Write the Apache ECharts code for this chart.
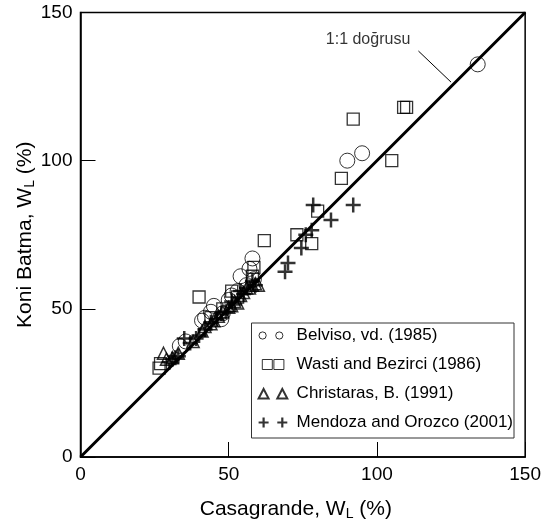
<!DOCTYPE html>
<html>
<head>
<meta charset="utf-8">
<script src="https://cdn.jsdelivr.net/npm/echarts/dist/echarts.min.js"></script>
<style>html,body{margin:0;padding:0;background:#fff}#c{width:544px;height:526px}</style>
</head>
<body>
<div id="c"></div>
<script>
// ---- data ----
const xTicks = [0, 50, 100, 150];
const yTicks = [0, 50, 100, 150];
const seriesNames = ['Belviso, vd. (1985)', 'Wasti and Bezirci (1986)', 'Christaras, B. (1991)', 'Mendoza and Orozco (2001)'];
const belviso = [[33.5,37.5],[35.5,39],[41,46],[42,47],[44,49],[45,51],[47.5,46.5],[48,48.5],[50,53],[51,54.5],[53,56],[54,61],[56,58],[57,63.5],[58,67],[58.5,60],[90,100],[95,102.5],[134,132.5]];
const wasti = [[26.5,30],[27,31.5],[40,54],[44,47],[48,50],[51,56],[53,54],[58,61],[58.5,64],[62,73],[73,75],[78,72],[80,83],[88,94],[92,114],[105,100],[109,118],[110,118]];
const christaras = [[28,35],[29,33],[31,33.5],[33,35],[38,39],[41,42.5],[42,44],[44,45],[45,46],[46.5,47.5],[48,49],[50,50.5],[51,51],[52,52.5],[53,52],[54,54.5],[55,55.5],[56,57],[57,57],[58,58],[59,58.5],[60,58]];
const mendoza = [[30,32],[31,33],[32,33.5],[33,34],[35,40],[37,38.5],[39,40],[40,41],[42,43],[44,45.5],[46,46.5],[47.5,48.5],[49,49],[51,52.5],[52,51.5],[54,56],[55,55],[56,57],[58,59.5],[59,58],[69,62.5],[70,65.5],[74.5,70.5],[76,75],[78,76.5],[78.5,85],[84.5,80],[92,85]];
const oneToOne = [[0,0],[150,150]];
const leader = [[114,137],[125,126.5]];
const annotText = '1:1 doğrusu';
const annotPos = [97,141];

// ---- chart ----
const FONT = '"Liberation Sans", Arial, sans-serif';
const chart = echarts.init(document.getElementById('c'), null, {renderer: 'canvas'});
const frame = 'M0,0M36,10';
const icons = [
  'path://' + frame + 'M3.4,5A3.6,3.6 0 1 1 10.6,5A3.6,3.6 0 1 1 3.4,5ZM20.1,5A3.6,3.6 0 1 1 27.3,5A3.6,3.6 0 1 1 20.1,5Z',
  'path://' + frame + 'M6.7,0L16.7,0L16.7,10L6.7,10ZM18.3,0L28.3,0L28.3,10L18.3,10Z',
  'path://' + frame + 'M8,0.5L13,10L3,10ZM26.7,0.5L31.7,10L21.7,10Z',
  'path://' + frame + 'M3,5L13,5M8,0L8,10M21.7,5L31.7,5M26.7,0L26.7,10'
];
const legendWidths = [1, 1, 2, 2.2];
const plusSym = 'path://M0,5L10,5M5,0L5,10';
const hollow = (w) => ({color: 'transparent', borderColor: '#000', borderWidth: w});

const axisCommon = {
  type: 'value', min: 0, max: 150, interval: 50,
  axisLine: {show: true, lineStyle: {color: '#000', width: 1.5}},
  axisTick: {show: true, inside: true, length: 15, lineStyle: {color: '#000', width: 1}},
  splitLine: {show: false},
  nameLocation: 'middle',
  nameMoveOverlap: false
};
const nameStyle = (pad) => ({color: '#000', fontSize: 21, fontFamily: FONT, padding: pad,
  rich: {s: {fontSize: 14, fontFamily: FONT, color: '#000', padding: [10, 0, 0, 0]}}});

chart.setOption({
  animation: false,
  backgroundColor: '#fff',
  grid: {left: 80.5, right: 17.5, top: 12.5, bottom: 68.5, show: true, borderColor: '#000', borderWidth: 1.5},
  xAxis: Object.assign({}, axisCommon, {
    name: 'Casagrande, W{s|L} (%)', nameGap: 40,
    nameTextStyle: nameStyle([0, 14, 0, 0]),
    axisLabel: {color: '#000', fontSize: 19, fontFamily: FONT, margin: 8,
      formatter: (v) => xTicks.includes(v) ? String(v) : ''}
  }),
  yAxis: Object.assign({}, axisCommon, {
    name: 'Koni Batma, W{s|L} (%)', nameGap: 43,
    nameTextStyle: nameStyle([0, 0, 0, 0]),
    axisLabel: {color: '#000', fontSize: 19, fontFamily: FONT, margin: 8,
      formatter: (v) => yTicks.includes(v) ? String(v) : ''}
  }),
  legend: {
    orient: 'vertical', left: 251.5, top: 323,
    padding: [4, 1, 7, 3],
    borderColor: '#333', borderWidth: 1,
    itemWidth: 36, itemHeight: 10, itemGap: 12,
    symbolKeepAspect: true,
    selectedMode: false,
    textStyle: {color: '#000', fontSize: 17, lineHeight: 16, fontFamily: FONT},
    data: seriesNames.map((n, i) => ({name: n, icon: icons[i], itemStyle: hollow(legendWidths[i])}))
  },
  series: [
    {type: 'line', data: oneToOne, symbol: 'none', silent: true, z: 3,
      lineStyle: {color: '#000', width: 3}},
    {type: 'line', data: leader, symbol: 'none', silent: true,
      lineStyle: {color: '#000', width: 1}},
    {type: 'scatter', data: [annotPos], symbolSize: 0, silent: true,
      label: {show: true, position: 'inside', formatter: annotText, color: '#000', fontSize: 16, fontFamily: FONT}},
    {type: 'scatter', name: seriesNames[0], data: belviso, symbol: 'circle', symbolSize: 15, itemStyle: hollow(1)},
    {type: 'scatter', name: seriesNames[1], data: wasti, symbol: 'rect', symbolSize: 12, itemStyle: hollow(1.3)},
    {type: 'scatter', name: seriesNames[2], data: christaras, symbol: 'triangle', symbolSize: 12, itemStyle: hollow(1.5)},
    {type: 'scatter', name: seriesNames[3], data: mendoza, symbol: plusSym, symbolSize: 15, itemStyle: hollow(2.5)}
  ]
});
</script>
</body>
</html>
